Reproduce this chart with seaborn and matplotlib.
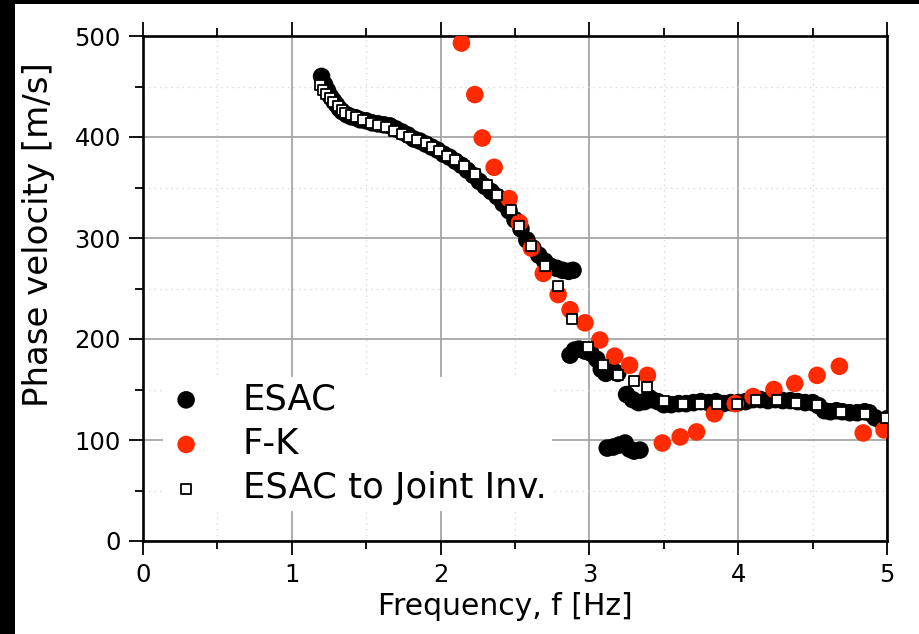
import numpy as np
import pandas as pd
import matplotlib
matplotlib.use("Agg")
import matplotlib.pyplot as plt
from matplotlib.patches import Rectangle
from matplotlib.ticker import MultipleLocator
import seaborn as sns

# ESAC (black circles)
esac_f = [1.20, 1.22, 1.24, 1.26, 1.28, 1.30, 1.32, 1.34, 1.37, 1.40, 1.43, 1.46, 1.50, 1.54,
          1.58, 1.62, 1.66, 1.70, 1.74, 1.78, 1.82, 1.86, 1.90, 1.94, 1.98, 2.02, 2.06, 2.10,
          2.14, 2.18, 2.22, 2.26, 2.30, 2.34, 2.38, 2.42, 2.46, 2.50, 2.54, 2.58, 2.62, 2.66,
          2.70, 2.74, 2.78, 2.82, 2.86, 2.89,
          2.87, 2.90, 2.93, 2.97, 3.01, 3.05, 3.08, 3.11, 3.15, 3.19, 3.25, 3.29, 3.33, 3.37, 3.40,
          3.12, 3.16, 3.20, 3.24, 3.27, 3.30, 3.34,
          3.42, 3.46, 3.50, 3.55, 3.60, 3.65, 3.70, 3.75, 3.80, 3.85, 3.90, 3.95, 4.00, 4.05,
          4.10, 4.15, 4.20, 4.25, 4.30, 4.35, 4.40, 4.45, 4.50, 4.54, 4.58, 4.62, 4.66, 4.70,
          4.75, 4.80, 4.85, 4.88, 4.92, 4.96, 5.00]
esac_v = [460, 452, 446, 440, 436, 432, 428, 425, 422, 420, 419, 417, 416, 414,
          413, 412, 411, 408, 405, 402, 398, 396, 393, 390, 387, 383, 380, 376,
          372, 367, 362, 356, 351, 346, 341, 334, 327, 318, 309, 298, 290, 283,
          277, 272, 270, 268, 267, 268,
          184, 189, 190, 188, 186, 180, 170, 166, 170, 166, 145, 140, 137, 138, 142,
          92, 93, 95, 97, 91, 89, 90,
          140, 138, 135, 135, 136, 136, 137, 138, 137, 138, 136, 137, 137, 138,
          140, 140, 139, 140, 139, 139, 138, 137, 137, 134, 129, 128, 129, 128,
          127, 127, 128, 127, 122, 119, 121]

# F-K (red circles)
fk_f = [2.14, 2.23, 2.28, 2.36, 2.46, 2.53, 2.61, 2.69, 2.79, 2.87, 2.97, 3.07, 3.17, 3.27,
        3.39, 3.49, 3.61, 3.72, 3.84, 3.98, 4.10, 4.24, 4.38, 4.53, 4.68, 4.84, 4.98]
fk_v = [493, 442, 399, 370, 339, 315, 290, 265, 244, 229, 216, 199, 183, 174,
        164, 97, 103, 108, 126, 136, 143, 150, 156, 164, 173, 107, 110]

# ESAC to Joint Inv. (open squares)
ji_f = [1.19, 1.21, 1.23, 1.26, 1.28, 1.31, 1.34, 1.36, 1.40, 1.43, 1.48, 1.53, 1.58, 1.63,
        1.69, 1.74, 1.79, 1.84, 1.90, 1.94, 1.99, 2.04, 2.10, 2.16, 2.23, 2.31, 2.38, 2.47,
        2.53, 2.61, 2.70, 2.79, 2.88, 2.99, 3.09, 3.19, 3.30, 3.39, 3.50, 3.63, 3.74, 3.86,
        3.99, 4.12, 4.26, 4.39, 4.53, 4.69, 4.85, 4.99]
ji_v = [451, 447, 443, 439, 435, 431, 427, 424, 422, 420, 417, 414, 412, 410,
        406, 403, 400, 397, 394, 390, 386, 381, 377, 371, 363, 352, 343, 328,
        312, 292, 272, 252, 220, 192, 174, 164, 158, 152, 139, 136, 136, 136,
        136, 140, 140, 137, 135, 128, 126, 122]

x_ticks = [0, 1, 2, 3, 4, 5]
y_ticks = [0, 100, 200, 300, 400, 500]

sns.set_theme(style="white")
plt.rcParams['font.family'] = ['DejaVu Sans']
plt.rcParams['text.color'] = 'black'

W, H = 919, 634
fig = plt.figure(figsize=(W / 100, H / 100), dpi=100)
fig.patch.set_facecolor("white")
ax = fig.add_axes([143 / W, 1 - 541 / H, (887 - 143) / W, (541 - 36) / H])

esac = pd.DataFrame({"f": esac_f, "v": esac_v})
fk = pd.DataFrame({"f": fk_f, "v": fk_v})
ji = pd.DataFrame({"f": ji_f, "v": ji_v})

sns.scatterplot(data=esac, x="f", y="v", ax=ax, color="black", s=160, marker="o",
                edgecolor="none", label="ESAC", zorder=3)
sns.scatterplot(data=fk, x="f", y="v", ax=ax, color="#ff2a00", s=160, marker="o",
                edgecolor="none", label="F-K", zorder=4)
sns.scatterplot(data=ji, x="f", y="v", ax=ax, color="white", s=48, marker="s",
                edgecolor="black", linewidth=1.3, label="ESAC to Joint Inv.", zorder=5)

ax.set_xlim(0, 5)
ax.set_ylim(0, 500)
ax.set_xticks(x_ticks)
ax.set_yticks(y_ticks)
ax.xaxis.set_minor_locator(MultipleLocator(0.5))
ax.yaxis.set_minor_locator(MultipleLocator(50))

ax.grid(which="major", color="#a6a6a6", linewidth=1.3, linestyle="-", zorder=0)
ax.grid(which="minor", color="#d8d8d8", linewidth=1.0, linestyle=(0, (1, 3)), zorder=0)
ax.set_axisbelow(True)

for sp in ax.spines.values():
    sp.set_visible(True)
    sp.set_color("black")
    sp.set_linewidth(1.9)

ax.tick_params(which="both", direction="out", color="black", width=1.3,
               bottom=True, top=True, left=True, right=False,
               labelsize=17.5, labelcolor="black")
ax.tick_params(which="major", length=10, pad=6)
ax.tick_params(which="minor", length=5.5)

ax.set_xlabel("Frequency, f [Hz]", fontsize=21.5, color="black")
ax.set_ylabel("Phase velocity [m/s]", fontsize=24.5, color="black")
ax.xaxis.set_label_coords((505 - 143) / 744, (541 - 592) / 505)
ax.yaxis.set_label_coords((55 - 143) / 744, (541 - 235) / 505)

leg = ax.legend(loc="lower left", bbox_to_anchor=(0.027, 0.06), fontsize=25.5,
                frameon=True, fancybox=False, framealpha=1, edgecolor="none",
                facecolor="white", handlelength=1.0, handletextpad=1.1,
                labelspacing=0.3, borderpad=0.15, borderaxespad=0)
for t in leg.get_texts():
    t.set_color("black")
leg.set_zorder(6)

# black border strips along left and top edges of the image
fig.add_artist(Rectangle((0, 0), 15 / W, 1, transform=fig.transFigure,
                         facecolor="black", edgecolor="none", zorder=10))
fig.add_artist(Rectangle((0, 1 - 4 / H), 1, 4 / H, transform=fig.transFigure,
                         facecolor="black", edgecolor="none", zorder=10))

fig.savefig("out.png", dpi=100, facecolor="white")
